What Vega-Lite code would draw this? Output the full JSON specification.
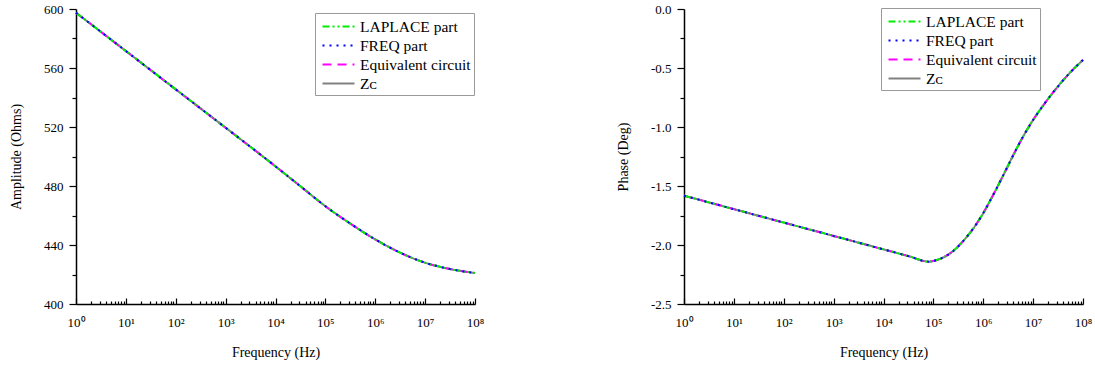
{
  "$schema": "https://vega.github.io/schema/vega-lite/v6.json",
  "background": "white",
  "padding": {"left": 9, "top": 3, "right": 5, "bottom": 5},
  "spacing": 132,
  "config": {
    "view": {"stroke": null},
    "axis": {
      "grid": false,
      "domainColor": "#000",
      "domainWidth": 1.5,
      "tickColor": "#000",
      "tickWidth": 1.2,
      "labelColor": "#000",
      "titleColor": "#000",
      "labelFont": "Liberation Serif",
      "titleFont": "Liberation Serif",
      "labelFontSize": 13,
      "titleFontSize": 14,
      "titleFontWeight": "normal"
    },
    "legend": {
      "orient": "none",
      "title": null,
      "strokeColor": "#999",
      "fillColor": "white",
      "padding": 3,
      "rowPadding": 0,
      "labelFont": "Liberation Serif",
      "labelFontSize": 15.5,
      "labelColor": "#000",
      "labelOffset": 11,
      "symbolType": "M-1.71,0L1.71,0",
      "symbolSize": 350,
      "symbolOffset": 10,
      "symbolStrokeWidth": 2
    }
  },
  "datasets": {
    "amp": [
      {"f": 1, "LAPLACE part": 597.5, "FREQ part": 597.5, "Equivalent circuit": 597.5, "Z_C": 597.5},
      {"f": 3.162, "LAPLACE part": 584.5, "FREQ part": 584.5, "Equivalent circuit": 584.5, "Z_C": 584.5},
      {"f": 10, "LAPLACE part": 571.5, "FREQ part": 571.5, "Equivalent circuit": 571.5, "Z_C": 571.5},
      {"f": 31.62, "LAPLACE part": 558.5, "FREQ part": 558.5, "Equivalent circuit": 558.5, "Z_C": 558.5},
      {"f": 100, "LAPLACE part": 545.5, "FREQ part": 545.5, "Equivalent circuit": 545.5, "Z_C": 545.5},
      {"f": 316.2, "LAPLACE part": 532.5, "FREQ part": 532.5, "Equivalent circuit": 532.5, "Z_C": 532.5},
      {"f": 1000, "LAPLACE part": 519.5, "FREQ part": 519.5, "Equivalent circuit": 519.5, "Z_C": 519.5},
      {"f": 3162, "LAPLACE part": 506.5, "FREQ part": 506.5, "Equivalent circuit": 506.5, "Z_C": 506.5},
      {"f": 10000, "LAPLACE part": 493.3, "FREQ part": 493.3, "Equivalent circuit": 493.3, "Z_C": 493.3},
      {"f": 31623, "LAPLACE part": 479.8, "FREQ part": 479.8, "Equivalent circuit": 479.8, "Z_C": 479.8},
      {"f": 100000, "LAPLACE part": 466.3, "FREQ part": 466.3, "Equivalent circuit": 466.3, "Z_C": 466.3},
      {"f": 316228, "LAPLACE part": 454.5, "FREQ part": 454.5, "Equivalent circuit": 454.5, "Z_C": 454.5},
      {"f": 1000000, "LAPLACE part": 443.8, "FREQ part": 443.8, "Equivalent circuit": 443.8, "Z_C": 443.8},
      {"f": 3162278, "LAPLACE part": 434.8, "FREQ part": 434.8, "Equivalent circuit": 434.8, "Z_C": 434.8},
      {"f": 10000000, "LAPLACE part": 428, "FREQ part": 428, "Equivalent circuit": 428, "Z_C": 428},
      {"f": 31622777, "LAPLACE part": 423.7, "FREQ part": 423.7, "Equivalent circuit": 423.7, "Z_C": 423.7},
      {"f": 100000000, "LAPLACE part": 421, "FREQ part": 421, "Equivalent circuit": 421, "Z_C": 421}
    ],
    "phase": [
      {"f": 1, "LAPLACE part": -1.582, "FREQ part": -1.582, "Equivalent circuit": -1.582, "Z_C": -1.582},
      {"f": 10, "LAPLACE part": -1.696, "FREQ part": -1.696, "Equivalent circuit": -1.696, "Z_C": -1.696},
      {"f": 100, "LAPLACE part": -1.81, "FREQ part": -1.81, "Equivalent circuit": -1.81, "Z_C": -1.81},
      {"f": 1000, "LAPLACE part": -1.923, "FREQ part": -1.923, "Equivalent circuit": -1.923, "Z_C": -1.923},
      {"f": 10000, "LAPLACE part": -2.037, "FREQ part": -2.037, "Equivalent circuit": -2.037, "Z_C": -2.037},
      {"f": 31623, "LAPLACE part": -2.094, "FREQ part": -2.094, "Equivalent circuit": -2.094, "Z_C": -2.094},
      {"f": 81283, "LAPLACE part": -2.141, "FREQ part": -2.141, "Equivalent circuit": -2.141, "Z_C": -2.141},
      {"f": 100000, "LAPLACE part": -2.135, "FREQ part": -2.135, "Equivalent circuit": -2.135, "Z_C": -2.135},
      {"f": 158489, "LAPLACE part": -2.105, "FREQ part": -2.105, "Equivalent circuit": -2.105, "Z_C": -2.105},
      {"f": 251189, "LAPLACE part": -2.05, "FREQ part": -2.05, "Equivalent circuit": -2.05, "Z_C": -2.05},
      {"f": 398107, "LAPLACE part": -1.965, "FREQ part": -1.965, "Equivalent circuit": -1.965, "Z_C": -1.965},
      {"f": 630957, "LAPLACE part": -1.86, "FREQ part": -1.86, "Equivalent circuit": -1.86, "Z_C": -1.86},
      {"f": 1000000, "LAPLACE part": -1.73, "FREQ part": -1.73, "Equivalent circuit": -1.73, "Z_C": -1.73},
      {"f": 1584893, "LAPLACE part": -1.575, "FREQ part": -1.575, "Equivalent circuit": -1.575, "Z_C": -1.575},
      {"f": 2511886, "LAPLACE part": -1.41, "FREQ part": -1.41, "Equivalent circuit": -1.41, "Z_C": -1.41},
      {"f": 3981072, "LAPLACE part": -1.24, "FREQ part": -1.24, "Equivalent circuit": -1.24, "Z_C": -1.24},
      {"f": 6309573, "LAPLACE part": -1.08, "FREQ part": -1.08, "Equivalent circuit": -1.08, "Z_C": -1.08},
      {"f": 10000000, "LAPLACE part": -0.94, "FREQ part": -0.94, "Equivalent circuit": -0.94, "Z_C": -0.94},
      {"f": 17782794, "LAPLACE part": -0.79, "FREQ part": -0.79, "Equivalent circuit": -0.79, "Z_C": -0.79},
      {"f": 31622777, "LAPLACE part": -0.655, "FREQ part": -0.655, "Equivalent circuit": -0.655, "Z_C": -0.655},
      {"f": 56234133, "LAPLACE part": -0.535, "FREQ part": -0.535, "Equivalent circuit": -0.535, "Z_C": -0.535},
      {"f": 100000000, "LAPLACE part": -0.432, "FREQ part": -0.432, "Equivalent circuit": -0.432, "Z_C": -0.432}
    ]
  },
  "hconcat": [
    {
      "width": 399,
      "height": 295,
      "data": {"name": "amp"},
      "transform": [{"fold": ["Z_C", "Equivalent circuit", "LAPLACE part", "FREQ part"], "as": ["series", "value"]}],
      "mark": {"type": "line", "strokeWidth": 2, "interpolate": "monotone"},
      "encoding": {
        "x": {
          "field": "f", "type": "quantitative",
          "scale": {"type": "log", "domain": [1, 100000000], "nice": false},
          "axis": {
            "title": "Frequency (Hz)",
            "values": [1,2,3,4,5,6,7,8,9,10,20,30,40,50,60,70,80,90,100,200,300,400,500,600,700,800,900,1000,2000,3000,4000,5000,6000,7000,8000,9000,10000,20000,30000,40000,50000,60000,70000,80000,90000,100000,200000,300000,400000,500000,600000,700000,800000,900000,1000000,2000000,3000000,4000000,5000000,6000000,7000000,8000000,9000000,10000000,20000000,30000000,40000000,50000000,60000000,70000000,80000000,90000000,100000000],
            "labelExpr": "abs(log(datum.value)/LN10 - round(log(datum.value)/LN10)) < 0.001 ? '10' + ['⁰','¹','²','³','⁴','⁵','⁶','⁷','⁸'][round(log(datum.value)/LN10)] : ''",
            "tickSize": {"condition": {"test": "abs(log(datum.value)/LN10 - round(log(datum.value)/LN10)) < 0.001", "value": -6}, "value": -3},
            "labelPadding": 18,
            "labelFlush": false,
            "labelOverlap": false,
            "titlePadding": 13
          }
        },
        "y": {
          "field": "value", "type": "quantitative",
          "scale": {"domain": [400, 600], "nice": false, "zero": false},
          "axis": {
            "title": "Amplitude (Ohms)",
            "values": [400,420,440,460,480,500,520,540,560,580,600],
            "labelExpr": "datum.value % 40 == 0 ? datum.label : ''",
            "tickSize": {"condition": {"test": "datum.value % 40 == 0", "value": 7}, "value": 4},
            "labelPadding": 6,
            "titlePadding": 20
          }
        },
        "color": {
          "field": "series", "type": "nominal",
          "scale": {"domain": ["LAPLACE part", "FREQ part", "Equivalent circuit", "Z_C"], "range": ["#00ee00", "#0000ff", "#ff00ff", "#808080"]},
          "legend": {"legendX": 239, "legendY": 4, "labelExpr": "datum.label == 'Z_C' ? 'Zᴄ' : datum.label"}
        },
        "strokeDash": {
          "field": "series", "type": "nominal",
          "scale": {"domain": ["LAPLACE part", "FREQ part", "Equivalent circuit", "Z_C"], "range": [[7, 3, 2, 3, 2, 3], [2, 5], [9, 6], [1, 0]]},
          "legend": {"legendX": 239, "legendY": 4, "labelExpr": "datum.label == 'Z_C' ? 'Zᴄ' : datum.label"}
        }
      }
    },
    {
      "width": 399,
      "height": 295,
      "data": {"name": "phase"},
      "transform": [{"fold": ["Z_C", "Equivalent circuit", "LAPLACE part", "FREQ part"], "as": ["series", "value"]}],
      "mark": {"type": "line", "strokeWidth": 2, "interpolate": "monotone"},
      "encoding": {
        "x": {
          "field": "f", "type": "quantitative",
          "scale": {"type": "log", "domain": [1, 100000000], "nice": false},
          "axis": {
            "title": "Frequency (Hz)",
            "values": [1,2,3,4,5,6,7,8,9,10,20,30,40,50,60,70,80,90,100,200,300,400,500,600,700,800,900,1000,2000,3000,4000,5000,6000,7000,8000,9000,10000,20000,30000,40000,50000,60000,70000,80000,90000,100000,200000,300000,400000,500000,600000,700000,800000,900000,1000000,2000000,3000000,4000000,5000000,6000000,7000000,8000000,9000000,10000000,20000000,30000000,40000000,50000000,60000000,70000000,80000000,90000000,100000000],
            "labelExpr": "abs(log(datum.value)/LN10 - round(log(datum.value)/LN10)) < 0.001 ? '10' + ['⁰','¹','²','³','⁴','⁵','⁶','⁷','⁸'][round(log(datum.value)/LN10)] : ''",
            "tickSize": {"condition": {"test": "abs(log(datum.value)/LN10 - round(log(datum.value)/LN10)) < 0.001", "value": -6}, "value": -3},
            "labelPadding": 18,
            "labelFlush": false,
            "labelOverlap": false,
            "titlePadding": 13
          }
        },
        "y": {
          "field": "value", "type": "quantitative",
          "scale": {"domain": [-2.5, 0], "nice": false, "zero": false},
          "axis": {
            "title": "Phase (Deg)",
            "values": [-2.5,-2.25,-2,-1.75,-1.5,-1.25,-1,-0.75,-0.5,-0.25,0],
            "labelExpr": "abs(datum.value*2 - round(datum.value*2)) < 0.001 ? (datum.value < 0 ? '-' : '') + format(abs(datum.value), '.1f') : ''",
            "tickSize": {"condition": {"test": "abs(datum.value*2 - round(datum.value*2)) < 0.001", "value": 7}, "value": 4},
            "labelPadding": 6,
            "titlePadding": 20
          }
        },
        "color": {
          "field": "series", "type": "nominal",
          "scale": {"domain": ["LAPLACE part", "FREQ part", "Equivalent circuit", "Z_C"], "range": ["#00ee00", "#0000ff", "#ff00ff", "#808080"]},
          "legend": {"legendX": 197, "legendY": -1, "labelExpr": "datum.label == 'Z_C' ? 'Zᴄ' : datum.label"}
        },
        "strokeDash": {
          "field": "series", "type": "nominal",
          "scale": {"domain": ["LAPLACE part", "FREQ part", "Equivalent circuit", "Z_C"], "range": [[7, 3, 2, 3, 2, 3], [2, 5], [9, 6], [1, 0]]},
          "legend": {"legendX": 197, "legendY": -1, "labelExpr": "datum.label == 'Z_C' ? 'Zᴄ' : datum.label"}
        }
      }
    }
  ],
  "resolve": {
    "scale": {"color": "independent", "strokeDash": "independent"},
    "legend": {"color": "independent", "strokeDash": "independent"}
  }
}
